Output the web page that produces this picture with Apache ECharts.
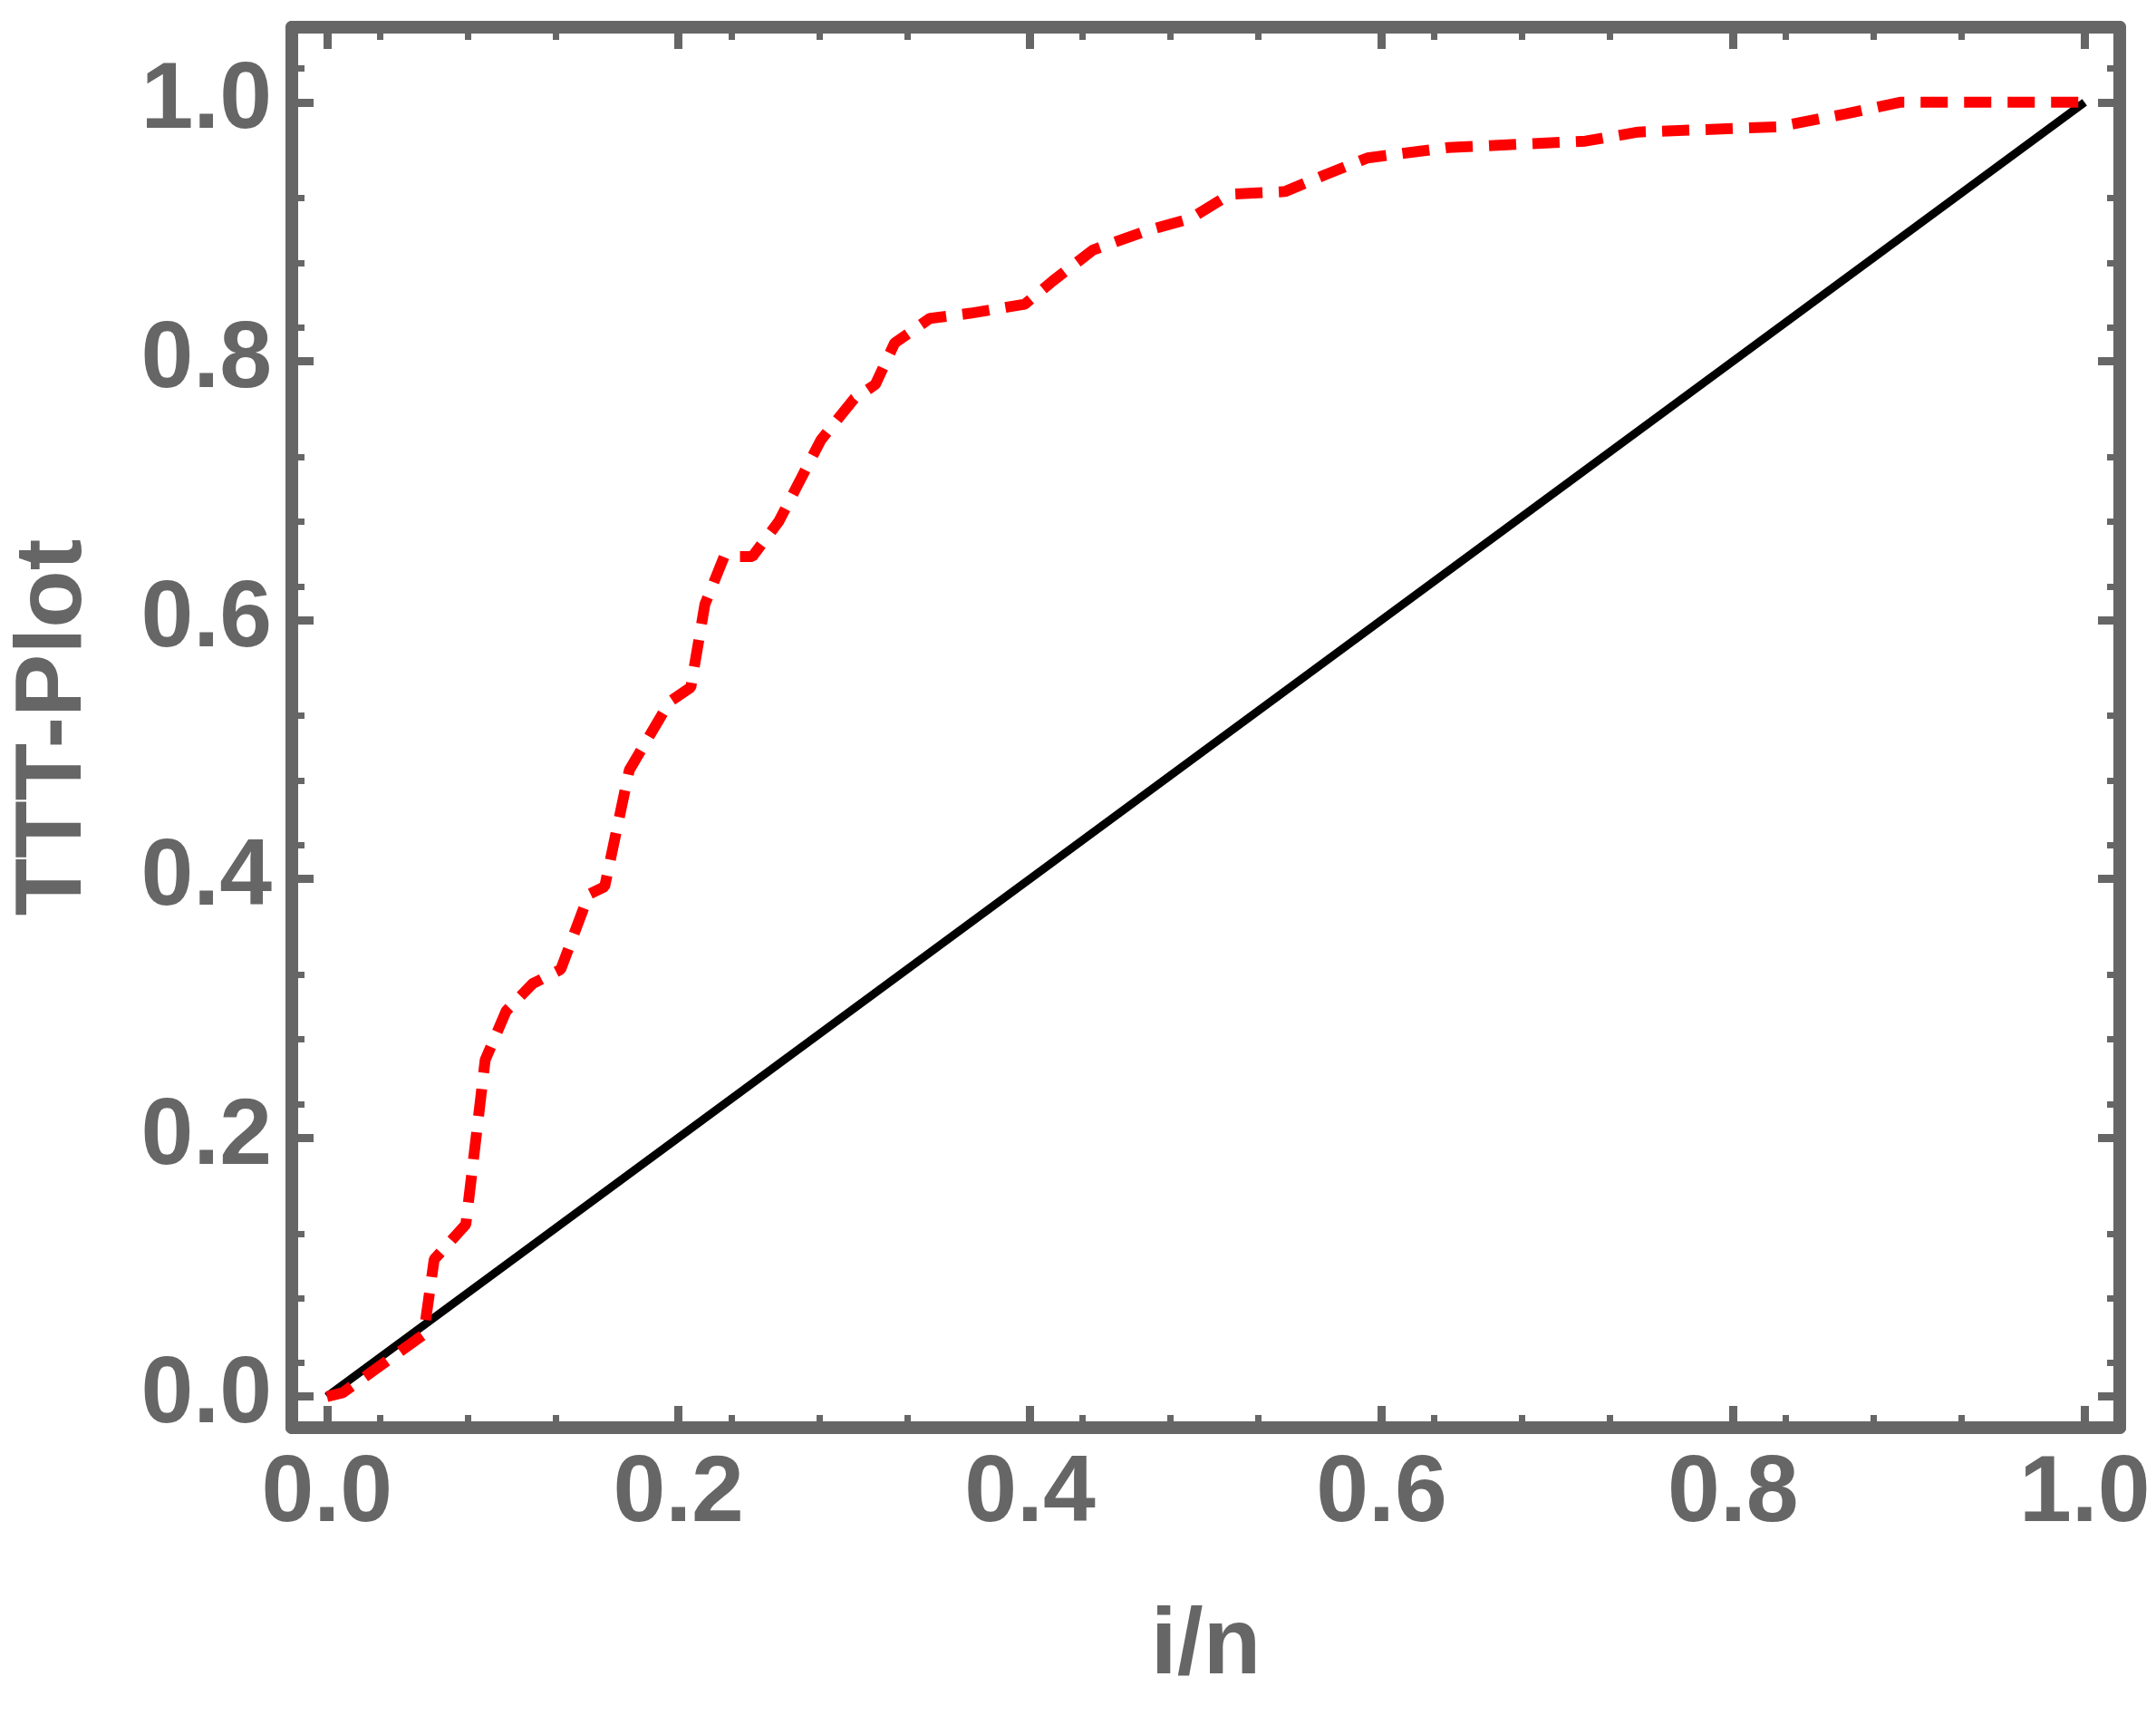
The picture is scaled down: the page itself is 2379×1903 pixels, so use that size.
<!DOCTYPE html>
<html>
<head>
<meta charset="utf-8">
<script src="https://cdn.jsdelivr.net/npm/echarts@6/dist/echarts.min.js"></script>
<style>html,body{margin:0;padding:0;background:#fff}#main{width:2379px;height:1903px}</style>
</head>
<body>
<div id="main"></div>
<script>
var tttX = [0.0, 0.009, 0.055, 0.061, 0.079, 0.09, 0.102, 0.117, 0.133, 0.149, 0.158, 0.172, 0.195, 0.207, 0.215, 0.226, 0.242, 0.257, 0.281, 0.3, 0.312, 0.323, 0.343, 0.366, 0.397, 0.413, 0.436, 0.467, 0.491, 0.514, 0.545, 0.568, 0.592, 0.638, 0.716, 0.746, 0.825, 0.864, 0.895, 1.0];
var tttY = [0.0, 0.003, 0.048, 0.106, 0.133, 0.26, 0.298, 0.319, 0.33, 0.388, 0.394, 0.484, 0.537, 0.548, 0.612, 0.649, 0.649, 0.676, 0.739, 0.771, 0.782, 0.814, 0.833, 0.837, 0.844, 0.862, 0.886, 0.901, 0.91, 0.929, 0.931, 0.944, 0.957, 0.965, 0.97, 0.977, 0.981, 0.991, 1.0, 1.0];
var diagX = [0, 1];
var diagY = [0, 1];

var gray = '#666666';
var lab = {color: gray, fontSize: 104, fontWeight: 'bold', fontFamily: 'Liberation Sans Narrow, Liberation Sans, Arial'};
function ax(pos, show, isX) {
  return {
    type: 'value', position: pos,
    min: isX ? -0.02 : -0.024, max: isX ? 1.02 : 1.058, interval: 0.2,
    axisLine: {show: true, onZero: false, lineStyle: {color: gray, width: 14}},
    axisTick: {show: true, inside: true, length: 24, lineStyle: {color: gray, width: 9},
      customValues: [0, 0.2, 0.4, 0.6, 0.8, 1.0]},
    minorTick: {show: true, splitNumber: 4, length: 14, lineStyle: {color: gray, width: 7}},
    axisLabel: show ? Object.assign({margin: 22, formatter: function (v) { return v.toFixed(1); },
      customValues: [0, 0.2, 0.4, 0.6, 0.8, 1.0]}, lab) : {show: false},
    splitLine: {show: false}
  };
}
var xa = ax('bottom', true, true), xb = ax('top', false, true);
var ya = ax('left', true, false), yb = ax('right', false, false);
xa.name = 'i/n'; xa.nameLocation = 'middle'; xa.nameGap = 190;
xa.nameTextStyle = lab;
ya.name = 'TTT-Plot'; ya.nameLocation = 'middle'; ya.nameGap = 210;
ya.nameTextStyle = lab;

var chart = echarts.init(document.getElementById('main'));
chart.setOption({
  animation: false,
  grid: {left: 308, right: 40, top: 30, bottom: 328},
  xAxis: [xa, xb],
  yAxis: [ya, yb],
  series: [
    {type: 'line', data: diagX.map(function (x, i) { return [x, diagY[i]]; }),
      symbol: 'none', lineStyle: {color: '#000', width: 9}},
    {type: 'line', data: tttX.map(function (x, i) { return [x, tttY[i]]; }),
      symbol: 'none', lineStyle: {color: '#ff0000', width: 12, type: [30, 18]}}
  ]
});
</script>
</body>
</html>
